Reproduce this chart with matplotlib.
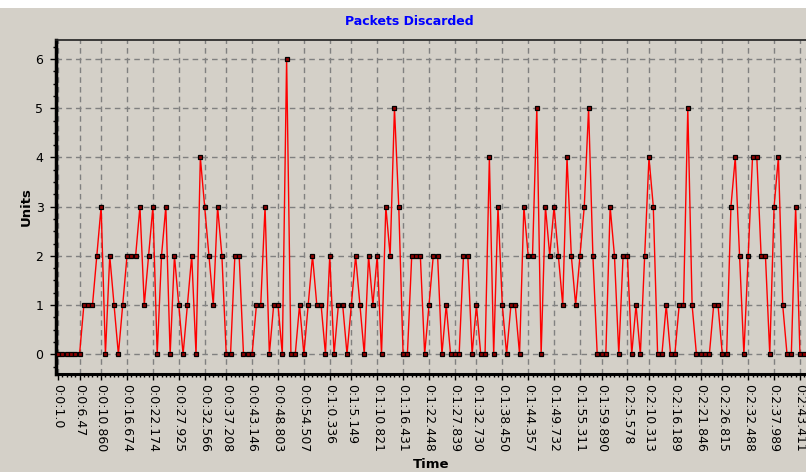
import matplotlib.pyplot as plt
from matplotlib.patches import Rectangle
import numpy as np

# グラフから読み取った値
units = [0, 0, 0, 0, 0, 0, 1, 1, 1, 2,
         3, 0, 2, 1, 0, 1, 2, 2, 2, 3,
         1, 2, 3, 0, 2, 3, 0, 2, 1, 0,
         1, 2, 0, 4, 3, 2, 1, 3, 2, 0,
         0, 2, 2, 0, 0, 0, 1, 1, 3, 0,
         1, 1, 0, 6, 0, 0, 1, 0, 1, 2,
         1, 1, 0, 2, 0, 1, 1, 0, 1, 2,
         1, 0, 2, 1, 2, 0, 3, 2, 5, 3,
         0, 0, 2, 2, 2, 0, 1, 2, 2, 0,
         1, 0, 0, 0, 2, 2, 0, 1, 0, 0,
         4, 0, 3, 1, 0, 1, 1, 0, 3, 2,
         2, 5, 0, 3, 2, 3, 2, 1, 4, 2,
         1, 2, 3, 5, 2, 0, 0, 0, 3, 2,
         0, 2, 2, 0, 1, 0, 2, 4, 3, 0,
         0, 1, 0, 0, 1, 1, 5, 1, 0, 0,
         0, 0, 1, 1, 0, 0, 3, 4, 2, 0,
         2, 4, 4, 2, 2, 0, 3, 4, 1, 0,
         0, 3, 0, 0]

# ラベルが付いているサンプル番号と時刻
tick_idx = [0, 5, 10, 16, 22, 28, 34, 39, 45, 51, 57, 63, 68, 74, 80, 86,
            92, 97, 103, 109, 115, 121, 126, 132, 137, 143, 149, 154, 160, 166, 172]
tick_labels = ['0:0:1.0', '0:0:6.47', '0:0:10.860', '0:0:16.674', '0:0:22.174',
               '0:0:27.925', '0:0:32.566', '0:0:37.208', '0:0:43.146', '0:0:48.803',
               '0:0:54.507', '0:1:0.336', '0:1:5.149', '0:1:10.821', '0:1:16.431',
               '0:1:22.448', '0:1:27.839', '0:1:32.730', '0:1:38.450', '0:1:44.357',
               '0:1:49.732', '0:1:55.311', '0:1:59.890', '0:2:5.578', '0:2:10.313',
               '0:2:16.189', '0:2:21.846', '0:2:26.815', '0:2:32.488', '0:2:37.989',
               '0:2:43.411']

bg = '#D4D0C8'
x = np.arange(len(units))

fig = plt.figure(figsize=(8.06, 4.72), dpi=100, facecolor=bg)
# 上端の白い帯
fig.patches.append(Rectangle((0, 1 - 8 / 472), 1, 8 / 472, transform=fig.transFigure,
                             facecolor='white', edgecolor='none'))

ax = fig.add_axes([56 / 806, 1 - 374 / 472, 1 - 56 / 806, (374 - 39.5) / 472])
ax.set_facecolor(bg)

ax.plot(x, units, color='#FF0000', lw=1.0, marker='s', markersize=3.0,
        markerfacecolor='#900000', markeredgecolor='black', markeredgewidth=0.9, zorder=3)

ax.set_xlim(-0.46, 173.4)
ax.set_ylim(-0.40, 6.396)

# 軸の目盛り
ax.set_xticks(tick_idx)
ax.set_xticklabels(tick_labels, rotation=270, fontsize=9, ha='center', va='top')
ax.set_xticks(x, minor=True)
ax.set_yticks(range(7))
ax.set_yticklabels([str(i) for i in range(7)], fontsize=9)
ax.set_yticks(np.arange(-0.25, 6.4, 0.25), minor=True)
ax.tick_params(axis='x', which='major', length=4, width=1, pad=3)
ax.tick_params(axis='x', which='minor', length=2, width=1)
ax.tick_params(axis='y', which='major', length=4, width=1, pad=5)
ax.tick_params(axis='y', which='minor', length=2.5, width=1)

# グリッド
ax.set_axisbelow(True)
ax.grid(True, which='major', color='#808080', linestyle=(0, (4, 3)), linewidth=1)

# 枠線
ax.spines['left'].set_linewidth(2.5)
ax.spines['bottom'].set_linewidth(2.2)
ax.spines['top'].set_linewidth(1.2)
ax.spines['top'].set_color('#202020')
ax.spines['right'].set_visible(False)

ax.set_xlabel('Time', fontsize=9.5, fontweight='bold', labelpad=4)
ax.set_ylabel('Units', fontsize=9.5, fontweight='bold', labelpad=2)

fig.text(409.5 / 806, 1 - 21.5 / 472, 'Packets Discarded', color='#0000FF',
         fontsize=9, fontweight='bold', ha='center', va='center')

fig.savefig('out.png', dpi=100, facecolor=bg)
